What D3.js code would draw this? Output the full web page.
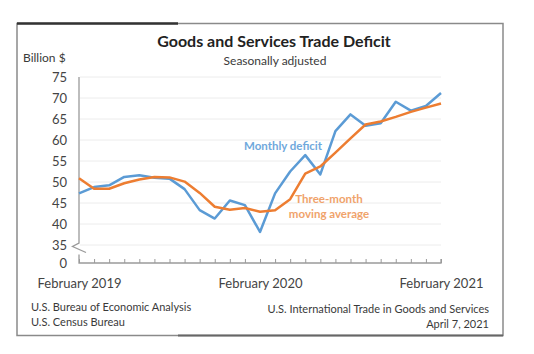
<!DOCTYPE html>
<html>
<head>
<meta charset="utf-8">
<script src="https://cdn.jsdelivr.net/npm/d3@7"></script>
<style>
  body { margin: 0; background: #fff; }
  svg text { font-family: Lato, "Open Sans", sans-serif; fill: #3a3a3a; }
  .grid line { stroke: #ececec; stroke-width: 1; }
  .axis text { font-size: 13px; fill: #444; }
</style>
</head>
<body>
<svg class="deficit" width="534" height="354"></svg>
<script>
// monthly categories, Feb 2019 .. Feb 2021
const months = [
  "2019-02", "2019-03", "2019-04", "2019-05", "2019-06", "2019-07", "2019-08",
  "2019-09", "2019-10", "2019-11", "2019-12", "2020-01", "2020-02", "2020-03",
  "2020-04", "2020-05", "2020-06", "2020-07", "2020-08", "2020-09", "2020-10",
  "2020-11", "2020-12", "2021-01", "2021-02"
];

// billions of dollars
const monthly = [
  47.3, 48.8, 49.2, 51.2, 51.6, 51.0, 50.8, 48.3, 43.3, 41.3, 45.6, 44.5,
  38.1, 47.3, 52.5, 56.4, 51.8, 62.1, 66.1, 63.4, 64.0, 69.1, 67.0, 68.1, 71.2
];
const movingAvg = [
  50.9, 48.4, 48.4, 49.7, 50.6, 51.2, 51.1, 50.1, 47.4, 44.1, 43.4, 43.8,
  42.9, 43.3, 45.9, 52.0, 53.7, 57.0, 60.4, 63.7, 64.4, 65.5, 66.7, 67.7, 68.7
];

const yTicks = [0, 35, 40, 45, 50, 55, 60, 65, 70, 75];
const gridTicks = [35, 40, 45, 50, 55, 60, 65, 70, 75];
const xLabelMonths = ["2019-02", "2020-02", "2021-02"];
const xLabels = ["February 2019", "February 2020", "February 2021"];

function drawDeficit() {
    const svg = d3.select("svg.deficit");
    const plot = { left: 79, right: 441, top: 77, bottom: 263 };

    const x = d3.scalePoint()
        .domain(months)
        .range([plot.left, plot.right]);

    // broken axis: 0 sits just below 35
    const y = d3.scaleLinear()
        .domain([0, 35, 75])
        .range([plot.bottom, 245, plot.top]);

    // frame
    svg.append("rect")
        .attr("x", 17).attr("y", 23.5)
        .attr("width", 486).attr("height", 312)
        .attr("fill", "none")
        .attr("stroke", "#8a8a8a")
        .attr("stroke-width", 1.5);
    svg.append("line")
        .attr("x1", 17).attr("x2", 178).attr("y1", 23.5).attr("y2", 23.5)
        .attr("stroke", "#333").attr("stroke-width", 2.5);
    svg.append("line")
        .attr("x1", 178).attr("x2", 503).attr("y1", 335.5).attr("y2", 335.5)
        .attr("stroke", "#666").attr("stroke-width", 2);

    svg.append("text")
        .attr("x", 274).attr("y", 47)
        .attr("text-anchor", "middle")
        .attr("font-size", 16).attr("font-weight", "bold")
        .style("fill", "#222")
        .text("Goods and Services Trade Deficit");

    svg.append("text")
        .attr("x", 275).attr("y", 65)
        .attr("text-anchor", "middle")
        .attr("font-size", 12)
        .text("Seasonally adjusted");

    svg.append("text")
        .attr("x", 23).attr("y", 62)
        .attr("font-size", 12)
        .text("Billion $");

    svg.append("g")
        .attr("class", "grid")
        .selectAll("line")
        .data(gridTicks)
        .enter().append("line")
        .attr("x1", plot.left + 1).attr("x2", plot.right)
        .attr("y1", d => y(d)).attr("y2", d => y(d));

    const yAxis = d3.axisLeft(y)
        .tickValues(yTicks)
        .tickSize(0)
        .tickPadding(12);

    svg.append("g")
        .attr("class", "y axis")
        .attr("transform", `translate(${plot.left}, 0)`)
        .call(yAxis)
        .call(g => g.select(".domain").remove());

    // axis line with the break mark
    svg.append("path")
        .attr("d", `M${plot.left},${plot.top} V243 L72.5,246.5 L86,252.5 M${plot.left},254.5 V${plot.bottom} H${plot.right} V${plot.bottom - 4}`)
        .attr("fill", "none")
        .attr("stroke", "#9a9a9a")
        .attr("stroke-width", 1.3);

    const xAxis = d3.axisBottom(x)
        .tickSize(-4)
        .tickFormat("");

    svg.append("g")
        .attr("class", "x axis")
        .attr("transform", `translate(0, ${plot.bottom})`)
        .call(xAxis)
        .call(g => g.select(".domain").remove())
        .call(g => g.selectAll(".tick line").attr("stroke", "#9a9a9a"));

    const xLabelAxis = d3.axisBottom(x)
        .tickValues(xLabelMonths)
        .tickFormat((d, i) => xLabels[i])
        .tickSize(0)
        .tickPadding(16);

    svg.append("g")
        .attr("class", "x axis")
        .attr("transform", `translate(0, ${plot.bottom})`)
        .call(xLabelAxis)
        .call(g => g.select(".domain").remove());

    const line = d3.line()
        .x((d, i) => x(months[i]))
        .y(d => y(d));

    svg.append("path")
        .datum(monthly)
        .attr("fill", "none")
        .attr("stroke", "#5b9bd5")
        .attr("stroke-width", 2.5)
        .attr("stroke-linejoin", "round")
        .attr("d", line);

    svg.append("path")
        .datum(movingAvg)
        .attr("fill", "none")
        .attr("stroke", "#ed7d31")
        .attr("stroke-width", 2.5)
        .attr("stroke-linejoin", "round")
        .attr("d", line);

    svg.append("text")
        .attr("x", 283).attr("y", 150)
        .attr("text-anchor", "middle")
        .attr("font-size", 11.5).attr("font-weight", "bold")
        .style("fill", "#6fa8dc")
        .text("Monthly deficit");

    const avgLabel = svg.append("text")
        .attr("text-anchor", "middle")
        .attr("font-size", 11.5).attr("font-weight", "bold")
        .style("fill", "#f0a36b");
    avgLabel.append("tspan").attr("x", 329).attr("y", 203).text("Three-month");
    avgLabel.append("tspan").attr("x", 329).attr("y", 218).text("moving average");

    svg.append("text")
        .attr("x", 31).attr("y", 311)
        .attr("font-size", 11)
        .text("U.S. Bureau of Economic Analysis");
    svg.append("text")
        .attr("x", 31).attr("y", 326)
        .attr("font-size", 11)
        .text("U.S. Census Bureau");
    svg.append("text")
        .attr("x", 489).attr("y", 313)
        .attr("text-anchor", "end")
        .attr("font-size", 11)
        .text("U.S. International Trade in Goods and Services");
    svg.append("text")
        .attr("x", 489).attr("y", 328)
        .attr("text-anchor", "end")
        .attr("font-size", 11)
        .text("April 7, 2021");
}

drawDeficit();
</script>
</body>
</html>
